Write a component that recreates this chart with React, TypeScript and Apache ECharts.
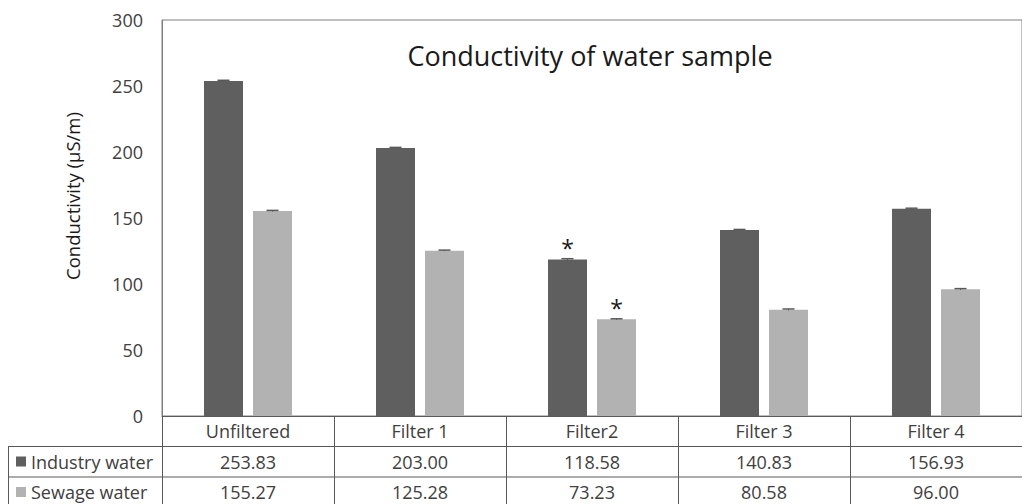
import React, { useEffect, useRef } from "react";
import * as echarts from "echarts";

const categories = ["Unfiltered", "Filter 1", "Filter2", "Filter 3", "Filter 4"];
const seriesNames = ["Industry water", "Sewage water"];
const industry = [253.83, 203.0, 118.58, 140.83, 156.93];
const sewage = [155.27, 125.28, 73.23, 80.58, 96.0];
const industryErr = [0.5, 0.5, 0.6, 0.5, 0.5];
const sewageErr = [0.5, 0.4, 0.4, 0.5, 0.5];
const significant = ["Filter2"];
const yTicks = { min: 0, max: 300, interval: 50 };

const FONT = "'Open Sans', 'Noto Sans', sans-serif";
const DARK = "#5f5f5f";
const LIGHT = "#b2b2b2";
const TEXT = "#404040";
const LINE = "#595959";
const BAR_W = 39;
const BAR_GAP = 10;

function fmt(v: number) {
  return v.toFixed(2);
}

function errSeries(vals: number[], errs: number[], sign: number) {
  return {
    type: "custom",
    silent: true,
    z: 5,
    data: vals.map((v, i) => [i, v, errs[i]]),
    renderItem: (params: any, api: any) => {
      const idx = api.value(0);
      const v = api.value(1);
      const e = api.value(2);
      const top = api.coord([idx, v + e]);
      const bot = api.coord([idx, v - e]);
      const x = top[0] + sign * (BAR_W + BAR_GAP) / 2;
      return {
        type: "group",
        children: [
          { type: "line", shape: { x1: x, y1: top[1], x2: x, y2: bot[1] }, style: { stroke: LINE, lineWidth: 1 } },
          { type: "line", shape: { x1: x - 6, y1: top[1], x2: x + 6, y2: top[1] }, style: { stroke: LINE, lineWidth: 1.5 } },
        ],
      };
    },
  };
}

function barData(vals: number[]) {
  return vals.map((v, i) =>
    significant.includes(categories[i])
      ? {
          value: v,
          label: {
            show: true,
            position: "top",
            formatter: "*",
            fontSize: 23,
            color: "#1a1a1a",
            distance: 0,
            fontFamily: FONT,
          },
        }
      : v
  );
}

export default function App() {
  const ref = useRef<HTMLDivElement>(null);
  useEffect(() => {
    if (!ref.current) return;
    const chart = echarts.init(ref.current, undefined, { renderer: "svg" });
    chart.setOption({
      animation: false,
      backgroundColor: "#ffffff",
      color: [DARK, LIGHT],
      textStyle: { fontFamily: FONT },
      title: {
        text: "Conductivity of water sample",
        left: 585,
        top: 37,
        textAlign: "center",
        textStyle: { fontFamily: FONT, fontSize: 27, fontWeight: "normal", color: "#1a1a1a" },
      },
      legend: {
        data: seriesNames,
        orient: "vertical",
        left: 16,
        top: 451.5,
        padding: 0,
        itemWidth: 10,
        itemHeight: 10,
        itemGap: 10.5,
        icon: "rect",
        selectedMode: false,
        textStyle: { fontFamily: FONT, fontSize: 18, color: TEXT, lineHeight: 20 },
      },
      grid: {
        left: 162,
        top: 20,
        width: 869,
        height: 396,
        show: true,
        borderColor: "#7f7f7f",
        borderWidth: 1,
        containLabel: false,
      },
      xAxis: {
        type: "category",
        data: categories,
        axisLine: { show: true, lineStyle: { color: LINE, width: 1 } },
        axisTick: { show: true, interval: 0, alignWithLabel: false, length: 90, lineStyle: { color: LINE, width: 1 } },
        axisLabel: {
          interval: 0,
          margin: 0,
          formatter: (val: string, i: number) =>
            `{c|${val}}\n{c|${fmt(industry[i])}}\n{c|${fmt(sewage[i])}}`,
          rich: {
            c: { fontFamily: FONT, fontSize: 18, color: TEXT, lineHeight: 30.5, align: "center" },
          },
        },
      },
      yAxis: {
        type: "value",
        min: yTicks.min,
        max: yTicks.max,
        interval: yTicks.interval,
        name: "Conductivity (µS/m)",
        nameLocation: "middle",
        nameGap: 80,
        nameTextStyle: { fontFamily: FONT, fontSize: 18.5, color: "#1a1a1a", padding: [0, 0, 0, 44] },
        axisLine: { show: true, lineStyle: { color: "#7f7f7f" } },
        axisTick: { show: false },
        splitLine: { show: false },
        axisLabel: { margin: 19, fontFamily: FONT, fontSize: 18, color: TEXT },
      },
      series: [
        {
          name: seriesNames[0],
          type: "bar",
          data: barData(industry),
          barWidth: BAR_W,
          barGap: `${(BAR_GAP / BAR_W) * 100}%`,
          itemStyle: { color: DARK },
        },
        {
          name: seriesNames[1],
          type: "bar",
          data: barData(sewage),
          barWidth: BAR_W,
          barGap: `${(BAR_GAP / BAR_W) * 100}%`,
          itemStyle: { color: LIGHT },
        },
        errSeries(industry, industryErr, -1),
        errSeries(sewage, sewageErr, 1),
      ],
      graphic: [
        { type: "line", shape: { x1: 8, y1: 446.5, x2: 1022, y2: 446.5 }, style: { stroke: LINE, lineWidth: 1 }, silent: true },
        { type: "line", shape: { x1: 8, y1: 477, x2: 1022, y2: 477 }, style: { stroke: LINE, lineWidth: 1 }, silent: true },
        { type: "line", shape: { x1: 8.5, y1: 446.5, x2: 8.5, y2: 504 }, style: { stroke: LINE, lineWidth: 1 }, silent: true },
      ],
    });
    return () => chart.dispose();
  }, []);
  return (
    <div
      ref={ref}
      style={{ position: "fixed", left: 0, top: 0, width: 1022, height: 504, background: "#fff" }}
    />
  );
}
